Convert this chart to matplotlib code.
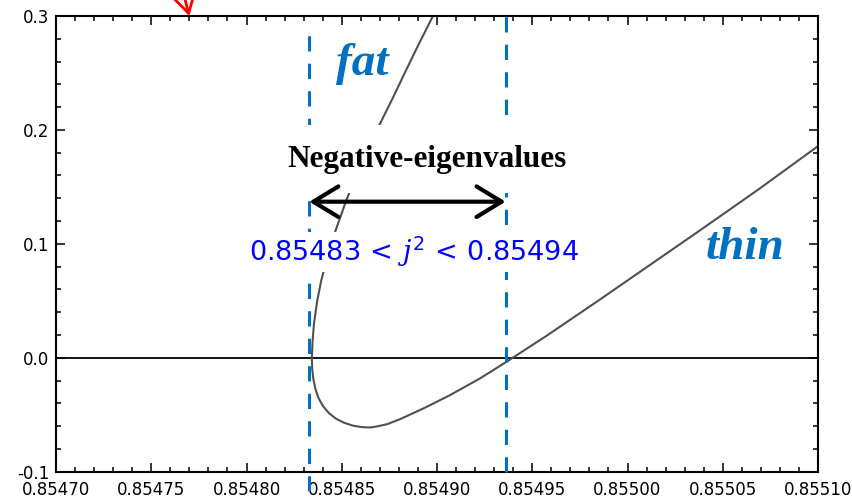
import matplotlib.pyplot as plt
from matplotlib.ticker import MultipleLocator, FormatStrFormatter

plt.rcParams["mathtext.fontset"] = "custom"
plt.rcParams["mathtext.rm"] = "DejaVu Sans"
plt.rcParams["mathtext.it"] = "DejaVu Serif:italic"
plt.rcParams["axes.unicode_minus"] = False

# curve: j^2 on x, eigenvalue on y
j2 = [0.8548979, 0.8548906, 0.8548837, 0.8548769, 0.8548701, 0.8548634, 0.8548555,
      0.8548523, 0.8548467, 0.8548415, 0.8548392, 0.8548371, 0.8548354, 0.8548347,
      0.8548343, 0.8548345, 0.8548351, 0.8548362, 0.8548378, 0.8548402, 0.8548433,
      0.8548470, 0.8548512, 0.8548559, 0.8548606, 0.8548648, 0.8548685, 0.8548738,
      0.8548806, 0.8548937, 0.8549068, 0.8549226, 0.8549367, 0.8549577, 0.8549856,
      0.8550118, 0.8550381, 0.8550696, 0.8551000]
lam = [0.300, 0.2759, 0.2522, 0.2284, 0.2055, 0.1818, 0.1510,
       0.1378, 0.1114, 0.0824, 0.0675, 0.0499, 0.0296, 0.0147,
       0.0, -0.0099, -0.0187, -0.0275, -0.0354, -0.0425, -0.0486,
       -0.0535, -0.0570, -0.0596, -0.0609, -0.0612, -0.0603, -0.0583,
       -0.0539, -0.0438, -0.0328, -0.0181, -0.0033, 0.0195, 0.0512,
       0.0815, 0.1119, 0.1488, 0.1858]

bounds = [0.854833, 0.854936]
dash_ylo = [-0.117, -0.1]
dash_yhi = [0.284, 0.3]
arrow_y = 0.137
pointer_x = 0.854770

blue = "#0070C0"

fig = plt.figure(figsize=(8.52, 4.98), dpi=100)
ax = fig.add_axes([56 / 852, 1 - 471.7 / 498, 762 / 852, 455.7 / 498])

ax.plot(j2, lam, color="#505050", lw=1.5, zorder=2)
ax.axhline(0, color="black", lw=1.3, zorder=1)

for x, lo, hi in zip(bounds, dash_ylo, dash_yhi):
    ax.plot([x, x], [lo, hi], color=blue, lw=2.2, ls=(0, (5, 4)), clip_on=False, zorder=3)

ax.set_xlim(0.85470, 0.85510)
ax.set_ylim(-0.1, 0.3)
ax.xaxis.set_major_locator(MultipleLocator(0.00005))
ax.xaxis.set_minor_locator(MultipleLocator(0.00001))
ax.xaxis.set_major_formatter(FormatStrFormatter("%.5f"))
ax.yaxis.set_major_locator(MultipleLocator(0.1))
ax.yaxis.set_minor_locator(MultipleLocator(0.02))
ax.yaxis.set_major_formatter(FormatStrFormatter("%.1f"))
ax.tick_params(which="both", direction="in", top=True, right=True, width=1.1, labelsize=12)
ax.tick_params(which="major", length=6.5, pad=5)
ax.tick_params(axis="x", which="major", pad=7)
ax.tick_params(which="minor", length=3.5)
for s in ax.spines.values():
    s.set_linewidth(1.5)

ax.text(0.8548606, 0.2478, "fat", family="Liberation Serif", weight="bold", style="italic",
        fontsize=34, color=blue, ha="center", va="baseline", zorder=5)
ax.text(0.8550617, 0.0868, "thin", family="Liberation Serif", weight="bold", style="italic",
        fontsize=34, color=blue, ha="center", va="baseline", zorder=5)
ax.text(0.8548948, 0.1677, "Negative-eigenvalues", family="Liberation Serif", weight="bold",
        fontsize=22.5, color="black", ha="center", va="baseline", zorder=5,
        bbox=dict(facecolor="white", edgecolor="none", pad=14))
ax.text(0.8548879, 0.0850, r"$0.85483\,<\,j^2\,<\,0.85494$", fontsize=19.5,
        color="#0000ff", ha="center", va="baseline", zorder=5,
        bbox=dict(facecolor="white", edgecolor="none", pad=2))

ax.annotate("", xy=(bounds[0], arrow_y), xytext=(bounds[1], arrow_y),
            arrowprops=dict(arrowstyle="<->,head_length=0.9,head_width=0.55", lw=3,
                            color="black", shrinkA=0, shrinkB=0, mutation_scale=20), zorder=6)
ax.annotate("", xy=(pointer_x, 0.3), xytext=(pointer_x - 0.000007, 0.345),
            arrowprops=dict(arrowstyle="->,head_length=0.6,head_width=0.35", lw=2,
                            color="red", shrinkA=0, shrinkB=0, mutation_scale=20),
            annotation_clip=False)

fig.savefig("out.png", dpi=100)
